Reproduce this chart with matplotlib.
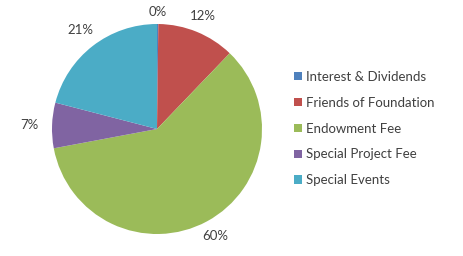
import matplotlib
matplotlib.use("Agg")
import matplotlib.pyplot as plt
from matplotlib.patches import Patch

categories = ["Interest & Dividends", "Friends of Foundation", "Endowment Fee",
              "Special Project Fee", "Special Events"]
values = [0.2, 12, 60, 7, 21]
pct_labels = ["0%", "12%", "60%", "7%", "21%"]
colors = ["#4F81BD", "#C0504D", "#9BBB59", "#8064A2", "#4BACC6"]
label_dist = [1.11, 1.16, 1.16, 1.22, 1.19]

plt.rcParams['font.family'] = ['Lato', 'DejaVu Sans']
fig = plt.figure(figsize=(4.63, 2.56), dpi=100)
ax = fig.add_axes([52/463, 22/256, 210/463, 210/256])
wedges, texts = ax.pie(values, colors=colors, startangle=90, counterclock=False,
                       labels=pct_labels, labeldistance=1.0,
                       textprops=dict(color="#404040", fontsize=9.5),
                       wedgeprops=dict(linewidth=0))
for t, d in zip(texts, label_dist):
    x, y = t.get_position()
    t.set_position((x * d, y * d))
    t.set_horizontalalignment("center")
    t.set_verticalalignment("center")
ax.set_xlim(-1, 1)
ax.set_ylim(-1, 1)
ax.set_aspect("equal")
ax.axis("off")

handles = [Patch(facecolor=c, edgecolor="none") for c in colors]
fig.legend(handles, categories, loc="upper left", bbox_to_anchor=(282/463, 1 - 59/256),
           frameon=False, fontsize=9.5, handlelength=0.6, handleheight=0.6,
           handletextpad=0.35, labelspacing=1.05, labelcolor="#404040")

fig.savefig("out.png", dpi=100)
